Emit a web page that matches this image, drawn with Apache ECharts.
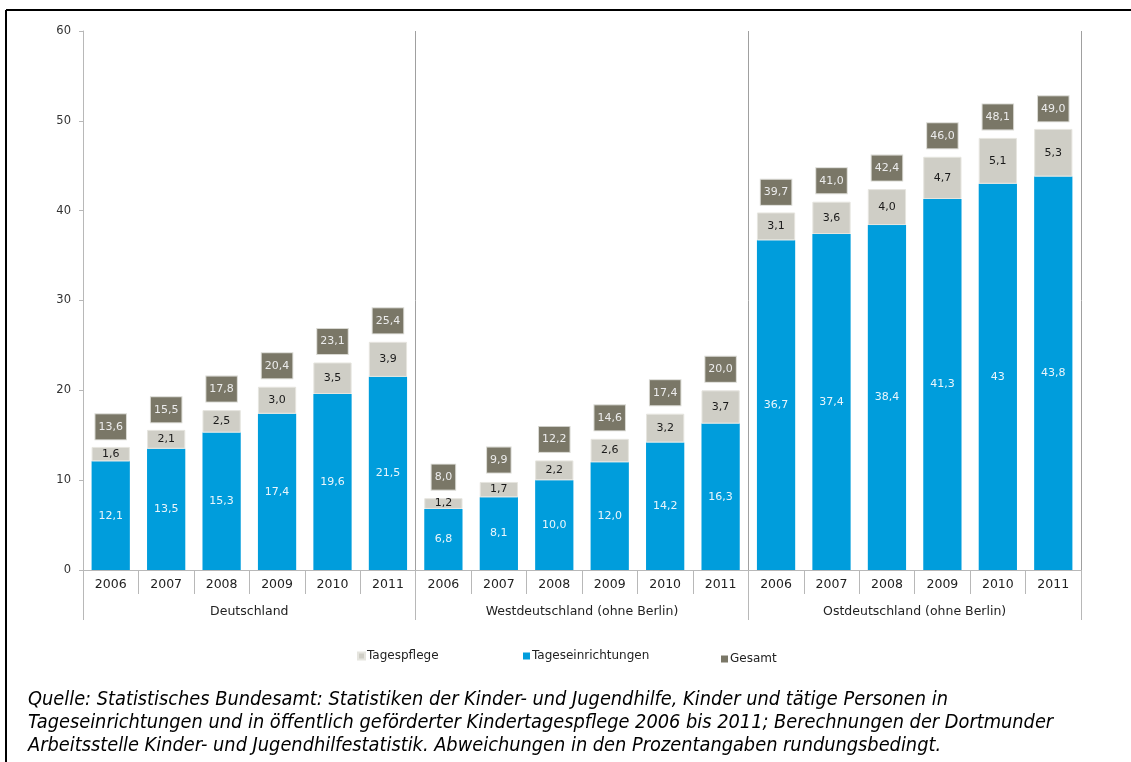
<!DOCTYPE html>
<html>
<head>
<meta charset="utf-8">
<script src="https://cdn.jsdelivr.net/npm/echarts@6/dist/echarts.min.js"></script>
<style>
html,body{margin:0;padding:0;background:#fff;}
#main{width:1131px;height:762px;}
</style>
</head>
<body>
<div id="main"></div>
<script>
const years = ['2006','2007','2008','2009','2010','2011','2006','2007','2008','2009','2010','2011','2006','2007','2008','2009','2010','2011'];
const regions = ['Deutschland','Westdeutschland (ohne Berlin)','Ostdeutschland (ohne Berlin)'];
const tageseinrichtungen = [12.1,13.5,15.3,17.4,19.6,21.5, 6.8,8.1,10.0,12.0,14.2,16.3, 36.7,37.4,38.4,41.3,43,43.8];
const tagespflege = [1.6,2.1,2.5,3.0,3.5,3.9, 1.2,1.7,2.2,2.6,3.2,3.7, 3.1,3.6,4.0,4.7,5.1,5.3];
const gesamt = [13.6,15.5,17.8,20.4,23.1,25.4, 8.0,9.9,12.2,14.6,17.4,20.0, 39.7,41.0,42.4,46.0,48.1,49.0];
const yTicks = [0,10,20,30,40,50,60];

const cats = years.map((y,i)=> i + '|' + y);
function fmt(v){ return v === 43 ? '43' : v.toFixed(1).replace('.', ','); }

const FONT = 'DejaVu Sans';
const chart = echarts.init(document.getElementById('main'));
chart.setOption({
  animation:false,
  backgroundColor:'#fff',
  textStyle:{fontFamily:FONT},
  grid:{left:83,right:50,top:31,bottom:192,containLabel:false},
  title:{
    text:'Quelle: Statistisches Bundesamt: Statistiken der Kinder- und Jugendhilfe, Kinder und tätige Personen in\nTageseinrichtungen und in öffentlich geförderter Kindertagespflege 2006 bis 2011; Berechnungen der Dortmunder\nArbeitsstelle Kinder- und Jugendhilfestatistik. Abweichungen in den Prozentangaben rundungsbedingt.',
    left:23, top:683,
    textStyle:{fontFamily:'DejaVu Sans Condensed, DejaVu Sans',fontStyle:'italic',fontWeight:'normal',fontSize:19.8,lineHeight:23,color:'#000'}
  },
  legend:[
    {data:['Tagespflege'],left:352,top:645,itemWidth:7,itemHeight:7,icon:'rect',textStyle:{fontSize:12,color:'#222',padding:[0,0,0,-3]}},
    {data:['Tageseinrichtungen'],left:518,top:645,itemWidth:7,itemHeight:7,icon:'rect',textStyle:{fontSize:12,color:'#222',padding:[0,0,0,-3]}},
    {data:[{name:'Gesamt',itemStyle:{color:'#7a7767',opacity:1}}],left:716,top:648,itemWidth:7,itemHeight:7,icon:'rect',textStyle:{fontSize:12,color:'#222',padding:[0,0,0,-3]}}
  ],
  xAxis:[
    {type:'category',data:cats,position:'bottom',
     axisLine:{lineStyle:{color:'#b8b8b8',width:1}},
     axisTick:{show:true,interval:0,length:24,lineStyle:{color:'#b8b8b8'}},
     axisLabel:{interval:0,margin:8,fontSize:12.5,color:'#222',formatter:v=>v.split('|')[1]},
     splitLine:{show:false}},
    {type:'category',data:regions,position:'bottom',
     axisLine:{show:false},
     axisTick:{show:true,interval:0,length:50,lineStyle:{color:'#b8b8b8'}},
     axisLabel:{interval:0,margin:35,fontSize:12.5,color:'#222'},
     splitLine:{show:true,interval:0,lineStyle:{color:'#a0a0a0',width:1}}}
  ],
  yAxis:{type:'value',min:0,max:60,interval:10,
    axisLine:{show:true,lineStyle:{color:'#b8b8b8'}},
    axisTick:{show:true,length:4,lineStyle:{color:'#b8b8b8'}},
    axisLabel:{margin:12,fontSize:11.5,color:'#333',formatter:v=>yTicks.includes(v)?String(v):''},
    splitLine:{show:false}},
  series:[
    {name:'Tageseinrichtungen',type:'bar',stack:'a',xAxisIndex:0,data:tageseinrichtungen,barCategoryGap:'31%',
     itemStyle:{color:'#009ddc'},
     label:{show:true,position:'inside',color:'#eaf6fc',fontSize:11,formatter:p=>fmt(p.value)}},
    {name:'Tagespflege',type:'bar',stack:'a',xAxisIndex:0,data:tagespflege,
     itemStyle:{color:'#cfcec6',borderColor:'#e6e5df',borderWidth:1},
     label:{show:true,position:'inside',color:'#1a1a1a',fontSize:11,formatter:p=>fmt(p.value)}},
    {name:'Gesamt',type:'scatter',xAxisIndex:0,data:gesamt,symbolSize:1,
     itemStyle:{color:'rgba(0,0,0,0)',opacity:1},
     label:{show:true,position:'top',distance:8,color:'#ececec',fontSize:11,lineHeight:13,opacity:1,
       backgroundColor:'#7a7767',padding:[6,3],borderColor:'#d8d8d2',borderWidth:1,formatter:p=>fmt(p.value)}}
  ],
  graphic:[
    {type:'line',shape:{x1:6,y1:10,x2:1131,y2:10},style:{stroke:'#000',lineWidth:2},z:10},
    {type:'line',shape:{x1:6,y1:10,x2:6,y2:762},style:{stroke:'#000',lineWidth:2},z:10}
  ]
});
</script>
</body>
</html>
